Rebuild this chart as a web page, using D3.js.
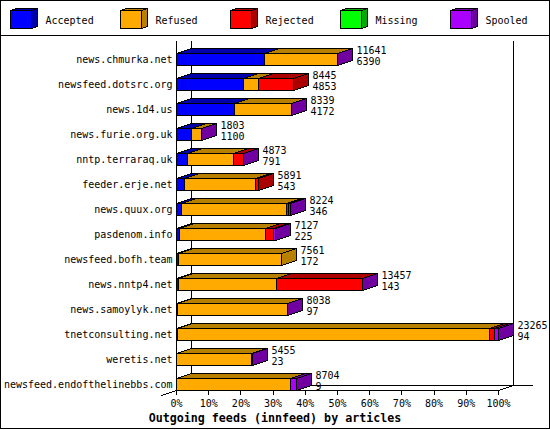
<!DOCTYPE html>
<html>
<head>
<meta charset="utf-8">
<script src="https://cdn.jsdelivr.net/npm/d3@7"></script>
<style>
  html, body { margin: 0; padding: 0; background: #fff; }
  svg { display: block; }
  text { font-family: "DejaVu Sans Mono", monospace; font-size: 10px; fill: #000; }
  .titre { font-size: 11.67px; font-weight: bold; }
  .forme { shape-rendering: crispEdges; }
</style>
</head>
<body>
<div id="graphique"></div>
<script>
// === Valeurs ===
const hosts = ["news.chmurka.net", "newsfeed.dotsrc.org", "news.1d4.us", "news.furie.org.uk", "nntp.terraraq.uk", "feeder.erje.net", "news.quux.org", "pasdenom.info", "newsfeed.bofh.team", "news.nntp4.net", "news.samoylyk.net", "tnetconsulting.net", "weretis.net", "newsfeed.endofthelinebbs.com"];
const offered  = [11641, 8445, 8339, 1803, 4873, 5891, 8224, 7127, 7561, 13457, 8038, 23265, 5455, 8704];
const accepted = [6390, 4853, 4172, 1100, 791, 543, 346, 225, 172, 143, 97, 94, 23, 9];
const refused  = [5231, 1056, 4147, 673, 3327, 5180, 7634, 6196, 7389, 7116, 7916, 22496, 5417, 8250];
const rejected = [0, 2536, 0, 0, 721, 168, 140, 582, 0, 6178, 0, 385, 0, 0];
const missing  = [0, 0, 0, 0, 0, 0, 0, 0, 0, 0, 0, 0, 0, 0];
const spooled  = [20, 0, 20, 30, 34, 0, 104, 124, 0, 20, 25, 290, 15, 445];
const tickValues = [0, 10, 20, 30, 40, 50, 60, 70, 80, 90, 100];

const seriesNames = ["Accepted", "Refused", "Rejected", "Missing", "Spooled"];
const seriesValues = [accepted, refused, rejected, missing, spooled];
const colors = ["#0000ff", "#ffaa00", "#ff0000", "#00ff00", "#aa00ff"];
const darkColors = ["#0000aa", "#b88000", "#aa0000", "#00aa00", "#7000a0"];

const largeur = 550;
const hauteur = 430;
const profX = 15;   // profondeur de la 3D
const profY = 5;
const demiBarre = 6;

const svg = d3.select("#graphique").append("svg")
  .attr("width", largeur)
  .attr("height", hauteur);

const g = svg.append("g").attr("transform", "translate(0.5,0.5)");

// Cadre et séparation de la légende
g.append("rect").attr("class", "forme")
  .attr("width", largeur - 1).attr("height", hauteur - 2)
  .attr("fill", "#fff").attr("stroke", "#000");
g.append("line").attr("class", "forme")
  .attr("x1", 0).attr("x2", largeur - 1).attr("y1", 35).attr("y2", 35)
  .attr("stroke", "#000");

// Petit pavé 3D : une face avant, un dessus, un côté
function pave(parent, x0, x1, y0, y1, dx, dy, couleur, sombre, avecCote) {
  parent.append("polygon").attr("class", "forme")
    .attr("points", [[x0, y0], [x0 + dx, y0 - dy], [x1 + dx, y0 - dy], [x1, y0]].join(" "))
    .attr("fill", sombre).attr("stroke", "#000");
  if (avecCote) {
    parent.append("polygon").attr("class", "forme")
      .attr("points", [[x1, y0], [x1 + dx, y0 - dy], [x1 + dx, y1 - dy], [x1, y1]].join(" "))
      .attr("fill", sombre).attr("stroke", "#000");
  }
  parent.append("rect").attr("class", "forme")
    .attr("x", x0).attr("y", y0)
    .attr("width", x1 - x0).attr("height", y1 - y0)
    .attr("fill", couleur).attr("stroke", "#000");
}

// === Légende ===
const legende = g.append("g");
seriesNames.forEach((nom, i) => {
  const x = 10 + i * 110;
  pave(legende, x, x + 21, 10, 28, 6, 2, colors[i], darkColors[i], true);
  legende.append("text")
    .attr("x", x + 35).attr("y", 20)
    .attr("dy", "0.35em")
    .text(nom);
});

// === Échelles ===
const maxOffered = d3.max(offered);
const xScale = d3.scaleLinear().domain([0, 100]).range([176, 498]);
const yScale = d3.scaleBand().domain(hosts).range([46.5, 396.5]);
const enPourcent = v => v / maxOffered * 100;
const centre = h => yScale(h) + yScale.bandwidth() / 2;

const xBas = xScale(0);
const xHaut = xScale(100);
const yBas = 390;
const yTop = 40;

// === Parois du fond ===
const fond = g.append("g").attr("class", "forme").attr("stroke", "#000").attr("fill", "none");
fond.append("path").attr("d", `M${xBas},${yTop}V${yBas}`);
fond.append("path").attr("d", `M${xBas + profX},${yTop}V${yBas - profY}H${xHaut + 34}`);
fond.append("path").attr("d", `M${xHaut + profX},${yTop}V${yBas - profY}L${xHaut},${yBas}`);
fond.append("path").attr("d", `M${xBas},${yBas}L${xBas - profX},${yBas + profY}`);

// === Axes ===
const axeX = d3.axisBottom(xScale)
  .tickValues(tickValues)
  .tickFormat(d => d + "%")
  .tickSize(4)
  .tickPadding(5)
  .offset(0);

const groupeX = g.append("g")
  .attr("transform", `translate(0,${yBas})`)
  .call(axeX);
groupeX.selectAll("path, line").attr("class", "forme");
groupeX.attr("font-family", null).attr("font-size", null);

const axeY = d3.axisLeft(yScale).tickSize(0).tickPadding(4).offset(0);
const groupeY = g.append("g")
  .attr("transform", `translate(${xBas},0)`)
  .call(axeY);
groupeY.select(".domain").remove();
groupeY.attr("font-family", null).attr("font-size", null);

// === Barres empilées ===
const barres = g.append("g");
hosts.forEach((host, r) => {
  const y0 = centre(host) - demiBarre;
  const y1 = centre(host) + demiBarre;
  const nonVides = seriesValues.map((s, i) => s[r] > 0 ? i : -1).filter(i => i >= 0);
  const dernier = nonVides[nonVides.length - 1];

  let cumul = 0;
  nonVides.forEach(i => {
    const debut = Math.round(xScale(enPourcent(cumul)));
    cumul += seriesValues[i][r];
    const fin = Math.round(xScale(enPourcent(cumul)));
    pave(barres, debut, fin, y0, y1, profX, profY, colors[i], darkColors[i], i === dernier);
  });

  // Les deux nombres à droite de la barre
  const xTexte = Math.round(xScale(enPourcent(offered[r]))) + profX + 4;
  barres.append("text").attr("x", xTexte).attr("y", y0 - 3).attr("dy", "0.35em").text(offered[r]);
  barres.append("text").attr("x", xTexte).attr("y", y0 + 8).attr("dy", "0.35em").text(accepted[r]);
});

// Titre de l'axe
g.append("text")
  .attr("class", "titre")
  .attr("x", 274.5).attr("y", 417)
  .attr("dy", "0.35em")
  .attr("text-anchor", "middle")
  .text("Outgoing feeds (innfeed) by articles");
</script>
</body>
</html>
